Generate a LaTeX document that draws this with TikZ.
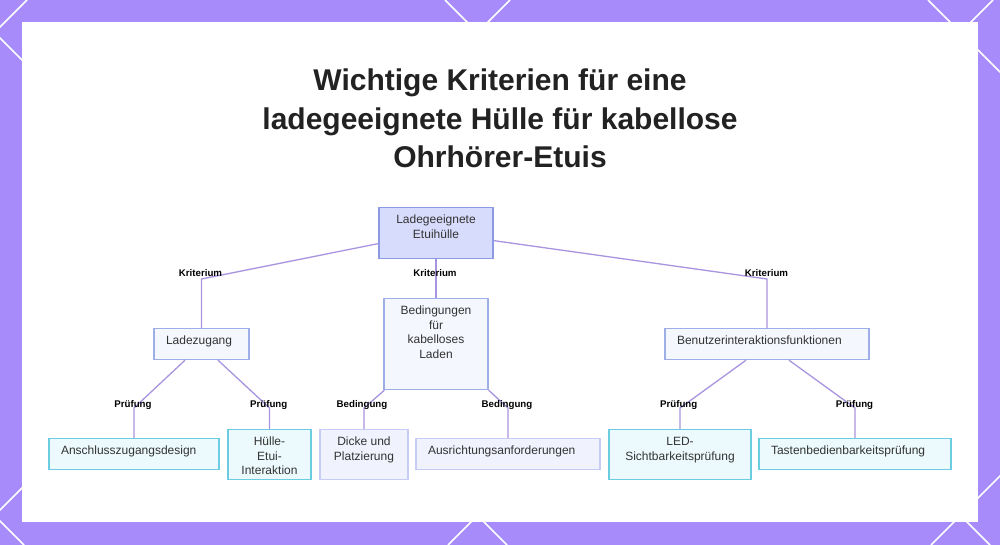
\documentclass[tikz,border=0pt]{standalone}
\usepackage{fontspec}
\setmainfont{Liberation Sans}
\usepackage{tikz}
\definecolor{bgpurple}{RGB}{167,139,250}
\definecolor{titlecol}{RGB}{34,34,34}
\definecolor{nodetext}{RGB}{51,51,51}
\definecolor{linkcol}{RGB}{169,148,224}
\definecolor{rootfill}{RGB}{216,220,252}
\definecolor{rootline}{RGB}{140,154,228}
\definecolor{midfill}{RGB}{245,247,255}
\definecolor{midline}{RGB}{158,174,230}
\definecolor{cyanfill}{RGB}{236,250,253}
\definecolor{cyanline}{RGB}{108,205,226}
\definecolor{lavfill}{RGB}{240,242,254}
\definecolor{lavline}{RGB}{198,204,244}

\begin{document}
\begin{tikzpicture}[x=1pt,y=-1pt]
        \tikzstyle{box}=[draw, rectangle, line width=1.2pt, anchor=north, inner xsep=0pt, inner ysep=0pt,
        text height=16pt, align=center, text=nodetext, font=\fontsize{12}{14.5}\selectfont]
        \tikzstyle{oneline}=[box, align=left, inner xsep=12pt, text depth=15pt]
        \tikzstyle{lbl}=[anchor=base, inner sep=0pt, font=\fontsize{9.7}{11}\selectfont\bfseries]
        \tikzstyle{link}=[draw=linkcol, line width=1.3pt]
        \useasboundingbox (0,0) rectangle (1000,545);
        \fill[bgpurple] (0,0) rectangle (1000,545);
        \begin{scope}
        \clip (0,0) rectangle (1000,545);
        \foreach \c in {-521,-38,445,928} \draw[white, line width=1.5pt] (\c,0) -- ++(545,545);
        \foreach \d in {27,510,993,1476} \draw[white, line width=1.5pt] (\d,0) -- ++(-545,545);
        \end{scope}
        \fill[white] (22,22) rectangle (978,522);
        \node[anchor=base, align=center, text=titlecol, font=\fontsize{30}{38.5}\selectfont\bfseries]
        (title) at (500,168) {Wichtige Kriterien für eine\\ladegeeignete Hülle für kabellose\\Ohrhörer-Etuis};
        \node[box, fill=rootfill, draw=rootline, minimum width=114pt, text height=30.5pt, text depth=20.5pt] (root) at (436,207) {Ladegeeignete\\Etuihülle};
        \node[oneline, fill=midfill, draw=midline, text width=71pt] (lz) at (201.5,328) {Ladezugang};
        \node[box, fill=midfill, draw=midline, minimum width=104pt, text height=59.5pt, text depth=31.5pt] (bed) at (436,298) {Bedingungen\\für\\kabelloses\\Laden};
        \node[oneline, fill=midfill, draw=midline, text width=180pt] (ben) at (767,328) {Benutzerinteraktionsfunktionen};
        \node[oneline, fill=cyanfill, draw=cyanline, text width=146pt] (ans) at (134,438) {Anschlusszugangsdesign};
        \node[box, fill=cyanfill, draw=cyanline, minimum width=83pt, text height=45pt, text depth=5pt] (hul) at (269.5,429) {Hülle-\\Etui-\\Interaktion};
        \node[box, fill=lavfill, draw=lavline, minimum width=88pt, text height=30.5pt, text depth=19.5pt] (dic) at (364,429) {Dicke und\\Platzierung};
        \node[oneline, fill=lavfill, draw=lavline, text width=160pt] (aus) at (508,438) {Ausrichtungsanforderungen};
        \node[box, fill=cyanfill, draw=cyanline, minimum width=142pt, text height=30.5pt, text depth=19.5pt] (led) at (680,429) {LED-\\Sichtbarkeitsprüfung};
        \node[oneline, fill=cyanfill, draw=cyanline, text width=168pt] (tas) at (855,438) {Tastenbedienbarkeitsprüfung};
        \coordinate (k1) at (201.5,279);
        \coordinate (k3) at (767,279);
        \coordinate (p1) at (134,408);
        \coordinate (p2) at (269.5,408);
        \coordinate (p3) at (364,408);
        \coordinate (p4) at (508,408);
        \coordinate (p5) at (680,408);
        \coordinate (p6) at (855,408);
        \draw[link] ([yshift=-10.5pt]root.west) -- (k1) -- (lz.north);
        \draw[link] (root.south) -- (bed.north);
        \draw[link] ([yshift=-7.5pt]root.east) -- (k3) -- (ben.north);
        \draw[link] ([xshift=-16.5pt]lz.south) -- (p1) -- (ans.north);
        \draw[link] ([xshift=16.5pt]lz.south) -- (p2) -- (hul.north);
        \draw[link] ([xshift=1pt]bed.south west) -- (p3) -- (dic.north);
        \draw[link] (bed.south east) -- (p4) -- (aus.north);
        \draw[link] ([xshift=-21pt]ben.south) -- (p5) -- (led.north);
        \draw[link] ([xshift=22pt]ben.south) -- (p6) -- (tas.north);
        \node[lbl] (kr1) at (200.5,276) {Kriterium};
        \node[lbl] (kr2) at (435,276) {Kriterium};
        \node[lbl] (kr3) at (766.5,276) {Kriterium};
        \node[lbl] (pr1) at (133,407) {Prüfung};
        \node[lbl] (pr2) at (268.7,407) {Prüfung};
        \node[lbl] (be1) at (362,407) {Bedingung};
        \node[lbl] (be2) at (507,407) {Bedingung};
        \node[lbl] (pr3) at (678.7,407) {Prüfung};
        \node[lbl] (pr4) at (854.5,407) {Prüfung};
    \end{tikzpicture}
\end{document}
